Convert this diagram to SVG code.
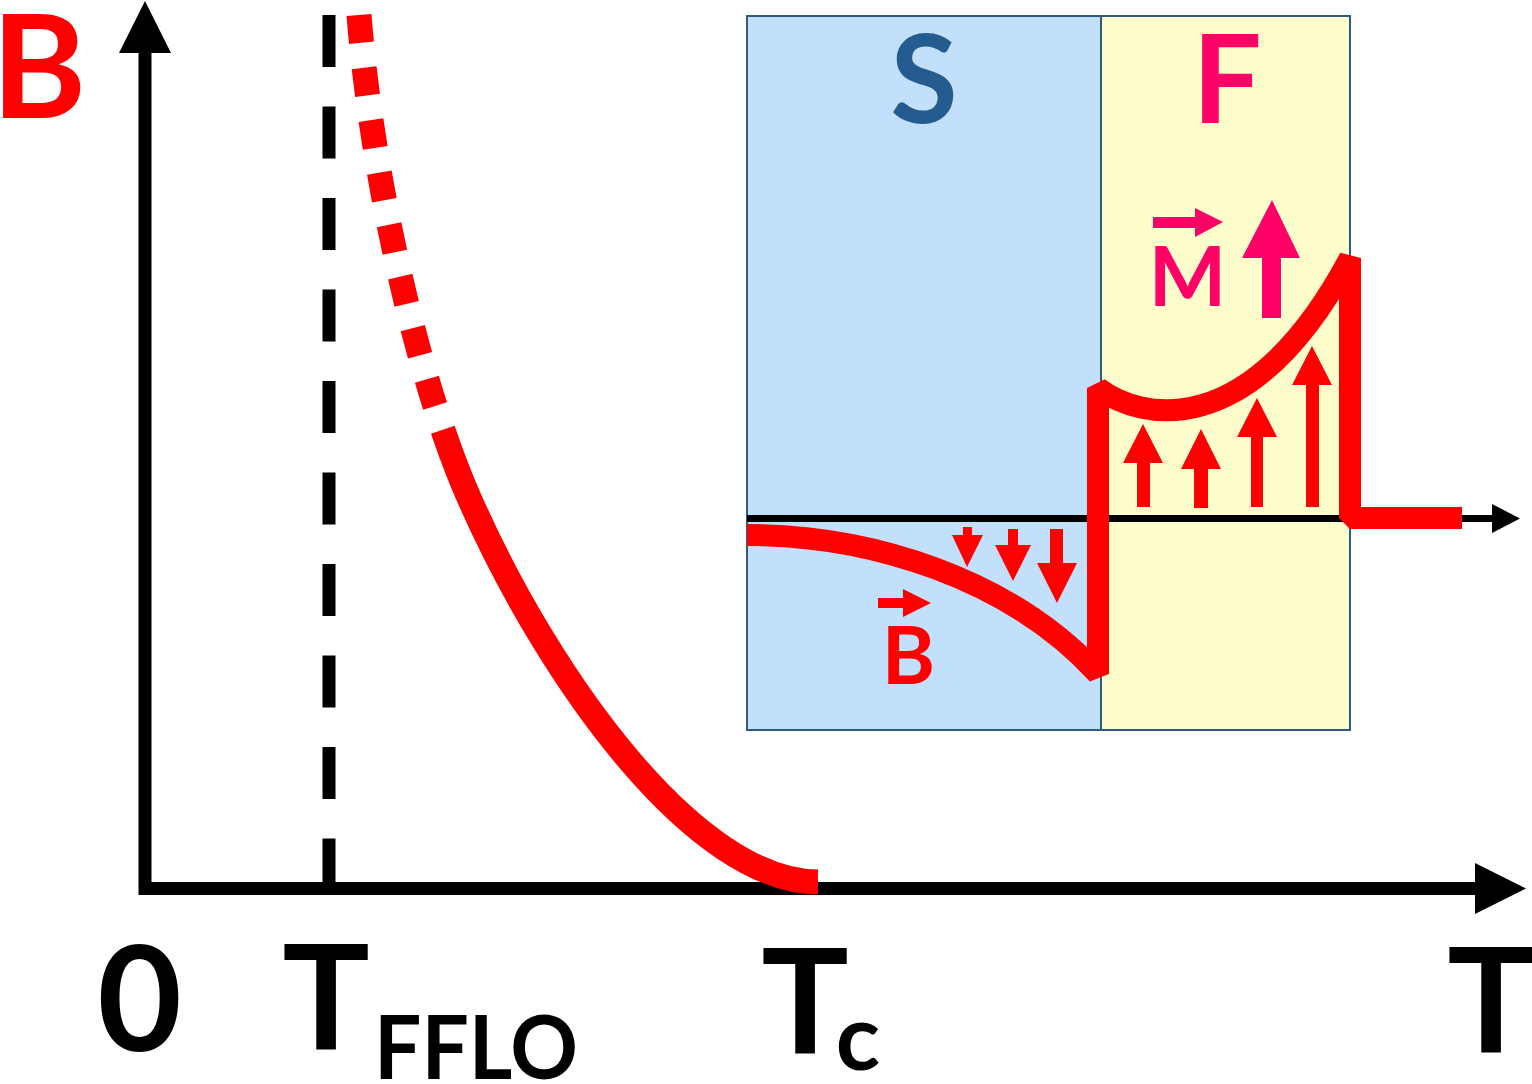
<svg xmlns="http://www.w3.org/2000/svg" width="1532" height="1084" viewBox="0 0 1532 1084">
<style>
.lbl{font-family:Lato,"Open Sans","Liberation Sans",sans-serif;font-weight:bold;text-anchor:middle}
.red{fill:#ff0000}
.pink{fill:#ff0066}
.blk{fill:#000000}
.ax{stroke:#000000;stroke-width:13;fill:none}
</style>
<rect width="1532" height="1084" fill="#ffffff"/>
<g id="inset">
  <rect id="region-S" x="747" y="16" width="354" height="714" fill="#c2e0fb" stroke="#2f5b82" stroke-width="2"/>
  <rect id="region-F" x="1101" y="16" width="249" height="714" fill="#fefecd" stroke="#2f5b82" stroke-width="2"/>
  <text class="lbl" x="924" y="123" font-size="123" fill="#255c8f">S</text>
  <text class="lbl" x="1227" y="123" font-size="123" fill="#ff0066">F</text>
  <g id="inset-axis">
    <line x1="747" y1="518.5" x2="1494" y2="518.5" stroke="#000" stroke-width="7"/>
    <polygon class="blk" points="1520,518.5 1492,504 1492,533"/>
  </g>
  <path id="profile" d="M747,535 C870,535 1010,578 1098,674 L1098,388 C1140,420 1250,445 1350,258 L1350,518 L1462,518" fill="none" stroke="#ff0000" stroke-width="22" stroke-linejoin="bevel"/>
  <g id="down-arrows" class="red">
    <path d="M963,527 H972 V535 H983 L967,567 L952,535 H963 Z"/>
    <path d="M1008,529 H1018 V545 H1031 L1013,581 L995,545 H1008 Z"/>
    <path d="M1050,529 H1063 V563 H1077 L1057,603 L1037,563 H1050 Z"/>
  </g>
  <g id="up-arrows" class="red">
    <path d="M1137,507 H1150 V463 H1163 L1143,424 L1123,463 H1137 Z"/>
    <path d="M1194,508 H1208 V469 H1221 L1201,429 L1181,469 H1194 Z"/>
    <path d="M1251,507 H1263 V437 H1277 L1257,398 L1237,437 H1251 Z"/>
    <path d="M1306,507 H1319 V385 H1332 L1312,346 L1292,385 H1306 Z"/>
  </g>
  <g id="label-M">
    <path class="pink" d="M1153,217 H1195 V208 L1223,222 L1195,237 V228 H1153 Z"/>
    <text class="lbl" x="1187.5" y="306" font-size="82" fill="#ff0066">M</text>
  </g>
  <path id="M-arrow" class="pink" d="M1262,318 H1281 V258 H1300 L1272,200 L1242,258 H1262 Z"/>
  <g id="label-Bvec">
    <path class="red" d="M878,598 H903 V589 L931,603 L903,617 V608 H878 Z"/>
    <text class="lbl" x="908.5" y="684" font-size="81" fill="#ff0000">B</text>
  </g>
</g>
<g id="axes">
  <line class="ax" x1="145" y1="52" x2="145" y2="895"/>
  <polygon class="blk" points="145,1 119,53 171,53"/>
  <line class="ax" x1="139" y1="888.5" x2="1477" y2="888.5"/>
  <polygon class="blk" points="1526,888.5 1475,863 1475,914"/>
  <line class="ax" x1="329" y1="15" x2="329" y2="889" stroke-dasharray="52 39.5"/>
</g>
<path id="curve" d="M359,15 C372,180 419,386 470,500 C553,687 698,882 818,882" fill="none" stroke="#ff0000" stroke-width="25" stroke-dasharray="28 25 28 25 28 25 28 25 28 25 28 25 28 25 28 25 5000 1"/>
<g id="labels">
  <text class="lbl" x="39" y="118" font-size="144" fill="#ff0000">B</text>
  <text class="lbl" x="139.5" y="1051" font-size="146" fill="#000">0</text>
  <text class="lbl" x="326" y="1049" font-size="146" fill="#000">T</text>
  <text class="lbl" x="476" y="1079" font-size="88" fill="#000" textLength="204" lengthAdjust="spacingAndGlyphs">FFLO</text>
  <text class="lbl" x="805" y="1053" font-size="146" fill="#000">T</text>
  <text class="lbl" x="858" y="1070" font-size="92" fill="#000">c</text>
  <text class="lbl" x="1491" y="1052" font-size="146" fill="#000">T</text>
</g>
</svg>
